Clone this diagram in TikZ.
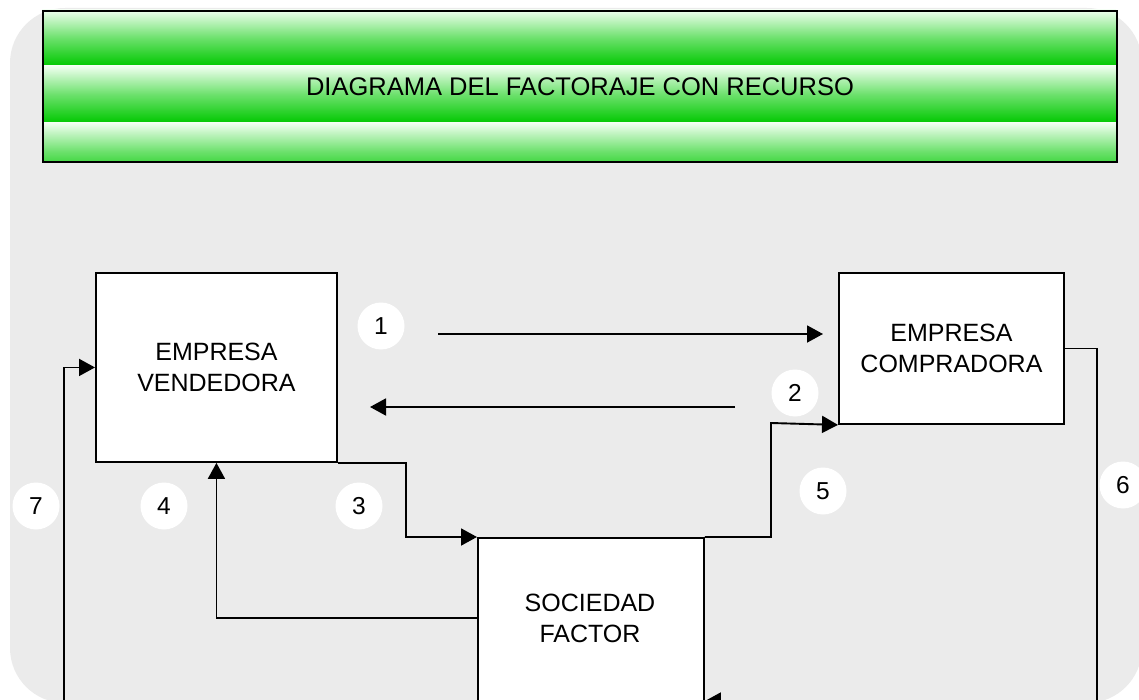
\documentclass[tikz,border=0pt]{standalone}
\usepackage{fontspec}
\setmainfont{Liberation Sans}
\usetikzlibrary{arrows.meta}
\definecolor{bggray}{HTML}{EBEBEB}
\definecolor{gtop}{HTML}{F0FFF0}
\definecolor{gbot}{HTML}{00C800}
\begin{document}
\begin{tikzpicture}[x=1pt,y=-1pt,
  box/.style={draw=black,line width=1.9pt,fill=white,inner sep=0pt,anchor=north west},
  boxtext/.style={align=center,inner sep=0pt,font=\fontsize{25}{31}\selectfont},
  num/.style={circle,fill=white,minimum size=47pt,inner sep=0pt,font=\fontsize{24.5}{24}\selectfont},
  arr/.style={line width=1.9pt,-{Triangle[length=16pt,width=17pt]}},
  band/.style={top color=gtop,bottom color=gbot,middle color=gbot!55!gtop}]
\useasboundingbox (0,0) rectangle (1139,700);
\clip (0,0) rectangle (1139,700);
% background panel
\fill[bggray,rounded corners=55pt] (10,8) rectangle (1142,703);
% header
\fill[black!25] (44,12) rectangle (1118,163);
\begin{scope}
  \clip (42,10) rectangle (1116,161);
  \shade[band] (42,10) rectangle (1116,66);
  \shade[band] (42,66) rectangle (1116,123);
  \shade[band] (42,123) rectangle (1116,180);
\end{scope}
\node[draw=black,line width=1.9pt,inner sep=0pt,minimum width=1074pt,minimum height=151pt,
      anchor=north west,font=\fontsize{25.5}{30}\selectfont] (header) at (42,10)
      {DIAGRAMA DEL FACTORAJE CON RECURSO};
% boxes
\node[box,minimum width=241pt,minimum height=189pt] (ev) at (95,272) {};
\node[boxtext] (evt) at (ev.center) {EMPRESA\\VENDEDORA};
\node[box,minimum width=225pt,minimum height=151pt] (ec) at (838,272) {};
\node[boxtext] (ect) at (ec.center) {EMPRESA\\COMPRADORA};
\node[box,minimum width=226pt,minimum height=200pt] (sf) at (477,537) {};
\node[boxtext] (sft) at (590,618) {SOCIEDAD\\FACTOR};
% free ends and bends
\coordinate (a1s) at (438,334);
\coordinate (a1e) at (823,334);
\coordinate (a2s) at (735,407);
\coordinate (a2e) at (370,407);
\coordinate (c3) at (406,537);
\coordinate (c5) at (771,423);
\coordinate (c6) at (1097,701);
\coordinate (c7) at (64,720);
% connectors
\draw[arr] (a1s) -- (a1e);
\draw[arr] (a2s) -- (a2e);
\draw[arr] (ev.south east) -| (c3) -- (sf.north west);
\draw[arr] (sft -| sf.west) -| (ev.south);
\draw[arr] (sf.north east) -| (c5) -- (ec.south west);
\draw[arr] (ec.east) -| (c6) -- (c6 -| sf.east);
\draw[arr] (c7) |- (ev.west);
% step numbers
\node[num] (n1) at (381,326) {1};
\node[num] (n2) at (795,393) {2};
\node[num] (n3) at (359,506) {3};
\node[num] (n4) at (164,506) {4};
\node[num] (n5) at (823,491) {5};
\node[num] (n6) at (1123,485) {6};
\node[num] (n7) at (36,506) {7};
\end{tikzpicture}
\end{document}
